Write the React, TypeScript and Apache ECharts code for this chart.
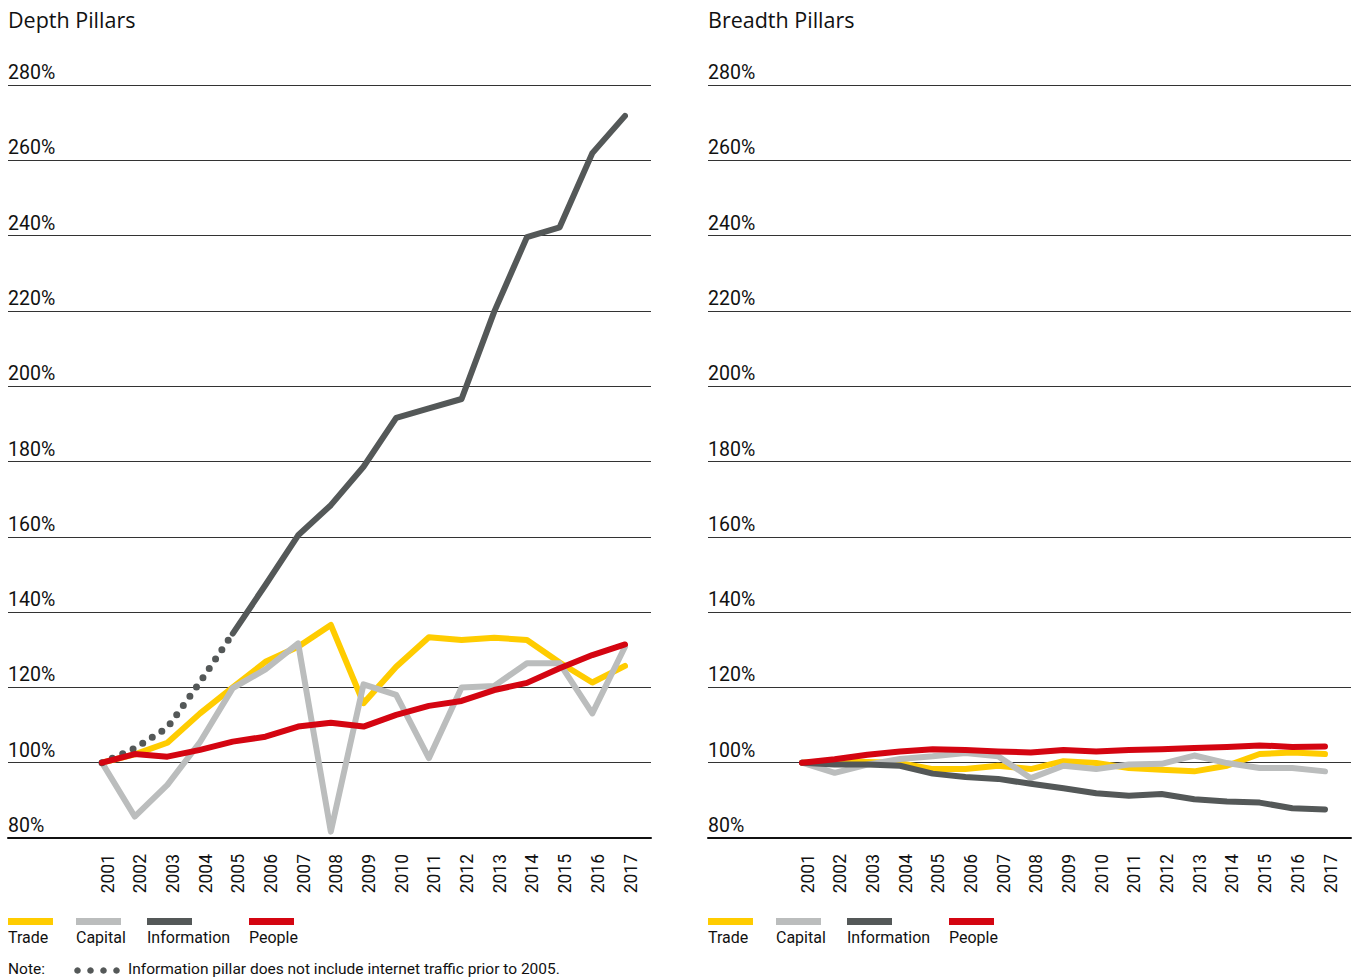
import { useEffect, useRef } from 'react';
import * as echarts from 'echarts';

const years = ['2001', '2002', '2003', '2004', '2005', '2006', '2007', '2008', '2009', '2010', '2011', '2012', '2013', '2014', '2015', '2016', '2017'];

const yMin = 80;
const yMax = 280;
const yStep = 20;

const panelTitles = ['Depth Pillars', 'Breadth Pillars'];
const seriesNames = ['Trade', 'Capital', 'Information', 'People'];
const seriesColors = ['#FFCC00', '#BBBDBD', '#545858', '#D40511'];

// Depth pillars (% of 2001)
const depthTrade = [100, 102.2, 105.3, 113.1, 120, 126.8, 130.8, 136.6, 115.8, 125.5, 133.3, 132.6, 133.2, 132.6, 126.6, 121.3, 125.7];
const depthCapital = [100, 85.7, 94.1, 105.5, 119.8, 124.8, 131.7, 81.7, 120.8, 118, 101.2, 120, 120.4, 126.4, 126.4, 113.1, 130.8];
const depthInfoEarly = [100, 103.8, 109.3, 121.4, 134.3, null, null, null, null, null, null, null, null, null, null, null, null];
const depthInfo = [null, null, null, null, 134.3, 147.2, 160.4, 168.4, 178.6, 191.6, 194.1, 196.6, 219.8, 239.6, 242.2, 261.9, 271.8];
const depthPeople = [100, 102.3, 101.6, 103.4, 105.6, 106.9, 109.6, 110.6, 109.6, 112.7, 115.1, 116.4, 119.3, 121.2, 125.1, 128.6, 131.4];

// Breadth pillars (% of 2001)
const breadthTrade = [100, 100.5, 100.2, 99.9, 98.3, 98.3, 99.2, 98.3, 100.4, 99.9, 98.6, 98.1, 97.7, 99.2, 102.3, 102.7, 102.3];
const breadthCapital = [100, 97.3, 99.5, 101, 101.7, 102.6, 101.7, 95.9, 99.2, 98.3, 99.5, 99.7, 101.9, 99.9, 98.6, 98.6, 97.7];
const breadthInfo = [100, 99.5, 99.5, 99.2, 97.1, 96.2, 95.7, 94.4, 93.2, 91.9, 91.2, 91.7, 90.3, 89.7, 89.4, 87.9, 87.6];
const breadthPeople = [100, 100.9, 102.1, 103, 103.6, 103.4, 103, 102.7, 103.4, 103, 103.4, 103.6, 103.9, 104.2, 104.6, 104.2, 104.3];

const noteLabel = 'Note:';
const noteText = 'Information pillar does not include internet traffic prior to 2005.';

const narrowFont = "'Liberation Sans Narrow', 'Roboto', sans-serif";
const textFont = "'Roboto', 'Open Sans', sans-serif";
const titleFont = "'Open Sans', 'Noto Sans', sans-serif";

function buildOption() {
  const panelLeft = [8, 708];
  const plotLeft = [102, 802];
  const top = 85;
  const height = 753;

  const grid: any[] = [];
  const xAxis: any[] = [];
  const yAxis: any[] = [];
  const series: any[] = [];
  const graphic: any[] = [];

  const lineSeries = (name: string, data: (number | null)[], color: string, idx: number, extra: any = {}) => ({
    name,
    type: 'line',
    xAxisIndex: idx,
    yAxisIndex: idx,
    data,
    symbol: 'none',
    showSymbol: false,
    connectNulls: false,
    silent: true,
    lineStyle: { color, width: 6, cap: 'round', join: 'round', ...(extra.lineStyle || {}) },
    z: extra.z || 2,
  });

  [0, 1].forEach((p) => {
    const gi = p * 2;
    grid.push({ left: panelLeft[p], width: 643, top, height, containLabel: false });
    grid.push({ left: plotLeft[p], width: 523, top, height, containLabel: false });

    xAxis.push({
      gridIndex: gi,
      type: 'value',
      min: 0,
      max: 1,
      axisLine: { show: true, lineStyle: { color: '#111', width: 2 } },
      axisTick: { show: false },
      axisLabel: { show: false },
      splitLine: { show: false },
    });
    xAxis.push({
      gridIndex: gi + 1,
      type: 'category',
      data: years,
      boundaryGap: false,
      axisLine: { show: false },
      axisTick: { show: false },
      splitLine: { show: false },
      axisLabel: {
        interval: 0,
        rotate: 90,
        margin: 16,
        fontFamily: narrowFont,
        fontSize: 17.5,
        color: '#111',
        verticalAlign: 'top',
        lineHeight: 11,
      },
    });

    yAxis.push({
      gridIndex: gi,
      type: 'value',
      min: yMin,
      max: yMax,
      interval: yStep,
      axisLine: { show: false },
      axisTick: { show: false },
      splitLine: { show: true, lineStyle: { color: '#333', width: 1 } },
      axisLabel: {
        inside: true,
        margin: 0,
        formatter: '{value}%',
        verticalAlign: 'bottom',
        fontFamily: narrowFont,
        fontSize: 19.5,
        lineHeight: 25,
        color: '#111',
        showMinLabel: true,
        showMaxLabel: true,
      },
    });
    yAxis.push({
      gridIndex: gi + 1,
      type: 'value',
      min: yMin,
      max: yMax,
      interval: yStep,
      show: false,
      splitLine: { show: false },
    });

    graphic.push({
      type: 'text',
      left: panelLeft[p],
      top: 8,
      style: { text: panelTitles[p], fontFamily: titleFont, fontSize: 21.5, fill: '#111' },
    });

    const legendX = [0, 68, 139, 241];
    seriesNames.forEach((n, i) => {
      graphic.push({
        type: 'rect',
        shape: { x: panelLeft[p] + legendX[i], y: 918, width: 45, height: 7 },
        style: { fill: seriesColors[i] },
      });
      graphic.push({
        type: 'text',
        x: panelLeft[p] + legendX[i],
        y: 937.5,
        style: { text: n, fontFamily: textFont, fontSize: 16, fill: '#111', verticalAlign: 'middle', align: 'left' },
      });
    });
  });

  const depthSets = [depthTrade, depthCapital, depthInfo, depthPeople];
  const breadthSets = [breadthTrade, breadthCapital, breadthInfo, breadthPeople];
  depthSets.forEach((d, i) => series.push(lineSeries(seriesNames[i], d, seriesColors[i], 1, { z: 2 + i })));
  series.push(
    lineSeries('Information (before 2005)', depthInfoEarly, seriesColors[2], 1, {
      z: 4,
      lineStyle: { width: 7, type: [0, 11.3], cap: 'round', dashOffset: 0 },
    })
  );
  breadthSets.forEach((d, i) => series.push(lineSeries(seriesNames[i], d, seriesColors[i], 3, { z: 2 + i })));

  // Note
  graphic.push({
    type: 'text',
    x: 8,
    y: 969,
    style: { text: noteLabel, fontFamily: textFont, fontSize: 15.5, fill: '#111', verticalAlign: 'middle' },
  });
  [77.5, 90.5, 103.5, 116.5].forEach((cx) => {
    graphic.push({ type: 'circle', shape: { cx, cy: 970.5, r: 3.3 }, style: { fill: seriesColors[2] } });
  });
  graphic.push({
    type: 'text',
    x: 128,
    y: 969,
    style: { text: noteText, fontFamily: textFont, fontSize: 15.5, fill: '#111', verticalAlign: 'middle' },
  });

  return {
    animation: false,
    backgroundColor: '#ffffff',
    grid,
    xAxis,
    yAxis,
    series,
    graphic,
  };
}

export default function App() {
  const ref = useRef<HTMLDivElement>(null);
  useEffect(() => {
    if (!ref.current) return;
    const chart = echarts.init(ref.current, null, { renderer: 'svg' });
    chart.setOption(buildOption() as any);
    return () => chart.dispose();
  }, []);
  return <div ref={ref} style={{ position: 'fixed', left: 0, top: 0, width: 1360, height: 978, background: '#fff' }} />;
}
